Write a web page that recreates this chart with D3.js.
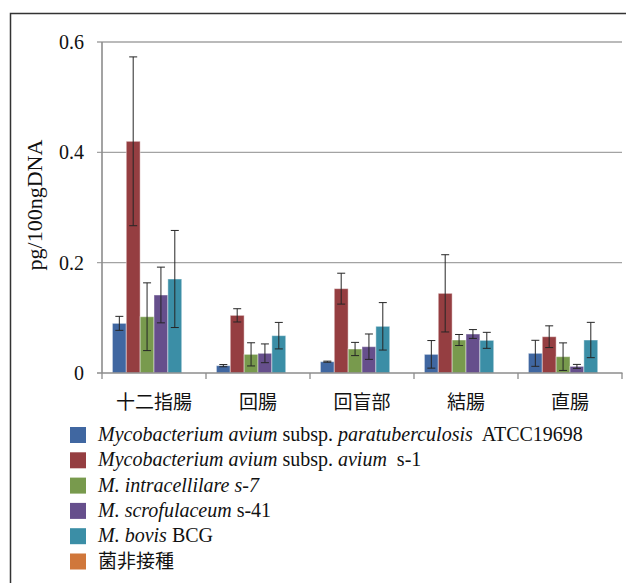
<!DOCTYPE html>
<html>
<head>
    <meta charset="utf-8">
    <title>pg/100ngDNA by site</title>
    <style>
        body { margin: 0; background: #fff; }
        svg text { white-space: pre; }
    </style>
    <script src="https://d3js.org/d3.v7.min.js"></script>
</head>
<body>
    <div id="chart"></div>
    <script>
        const categories = ["十二指腸", "回腸", "回盲部", "結腸", "直腸"];
        const seriesKeys = ["map", "maa", "mint", "mscr", "mbov", "ctrl"];
        const seriesColors = ["#4067a1", "#953e41", "#789a4d", "#664f8c", "#3b8ea6", "#d0773b"];

        const mapValues  = [0.090, 0.0133, 0.0205, 0.0338, 0.0357];
        const mapErrors  = [0.0127, 0.002, 0.001, 0.025, 0.0236];
        const maaValues  = [0.420, 0.1045, 0.1529, 0.1444, 0.0658];
        const maaErrors  = [0.153, 0.012, 0.028, 0.070, 0.0197];
        const mintValues = [0.102, 0.0338, 0.0435, 0.0598, 0.0296];
        const mintErrors = [0.0614, 0.021, 0.012, 0.010, 0.025];
        const mscrValues = [0.1414, 0.0357, 0.0477, 0.0707, 0.012];
        const mscrErrors = [0.0505, 0.017, 0.023, 0.008, 0.0036];
        const mbovValues = [0.1704, 0.0677, 0.0846, 0.0592, 0.0598];
        const mbovErrors = [0.088, 0.024, 0.043, 0.0145, 0.032];
        const ctrlValues = [0, 0, 0, 0, 0];
        const ctrlErrors = [0, 0, 0, 0, 0];

        const yTicks = [0, 0.2, 0.4, 0.6];
        const yLabel = "pg/100ngDNA";

        // legend labels, split into [text, italic?, cjk?] runs
        const legendLabels = [
            [["Mycobacterium avium", true], [" subsp. ", false], ["paratuberculosis", true], ["  ATCC19698", false]],
            [["Mycobacterium avium", true], [" subsp. ", false], ["avium", true], ["  s-1", false]],
            [["M. intracellilare s-7", true]],
            [["M. scrofulaceum", true], [" s-41", false]],
            [["M. bovis", true], [" BCG", false]],
            [["菌非接種", false, true]]
        ];

        const allValues = [mapValues, maaValues, mintValues, mscrValues, mbovValues, ctrlValues];
        const allErrors = [mapErrors, maaErrors, mintErrors, mscrErrors, mbovErrors, ctrlErrors];

        const SERIF = "'Liberation Serif', 'Times New Roman', 'DejaVu Serif', serif";
        const CJK = "'Noto Sans CJK JP', 'Noto Sans', sans-serif";

        const width = 626, height = 583;
        const svg = d3.select("#chart").append("svg")
            .attr("width", width)
            .attr("height", height);

        // outer frame (left + top visible)
        svg.append("path")
            .attr("d", `M10.5,${height} V13.5 H${width}`)
            .attr("fill", "none")
            .attr("stroke", "#333")
            .attr("stroke-width", 1.5);

        const x0 = d3.scaleBand().domain(categories).range([102, 622]);
        const x1 = d3.scaleBand().domain(seriesKeys).range([0, x0.bandwidth()]).paddingOuter(0.75);
        const y = d3.scaleLinear().domain([0, 0.6]).range([373, 42]);

        // y axis labels
        const yAxis = d3.axisLeft(y).tickValues(yTicks).tickSize(0)
            .tickFormat(d => d === 0 ? "0" : d3.format(".1f")(d));
        const yg = svg.append("g").attr("transform", "translate(102,0)").call(yAxis);
        yg.attr("font-family", null).attr("font-size", null);
        yg.select(".domain").remove();
        yg.selectAll("text")
            .attr("x", -18)
            .attr("dy", "0.33em")
            .style("font-size", "20px")
            .style("font-family", SERIF)
            .attr("fill", "#111");

        // gridlines
        svg.append("g").selectAll("line")
            .data(yTicks.filter(d => d > 0))
            .join("line")
            .attr("x1", 97).attr("x2", 622)
            .attr("y1", d => y(d)).attr("y2", d => y(d))
            .attr("stroke", "#a3a3a3")
            .attr("stroke-width", 1.3);

        // bars
        const groups = svg.append("g").selectAll("g")
            .data(categories)
            .join("g")
            .attr("transform", d => `translate(${x0(d)},0)`);

        const rows = ci => seriesKeys.map((k, si) => ({ k, si, v: allValues[si][ci], e: allErrors[si][ci] }));

        groups.selectAll("rect")
            .data((c, ci) => rows(ci))
            .join("rect")
            .attr("x", d => x1(d.k))
            .attr("width", x1.bandwidth())
            .attr("y", d => y(d.v))
            .attr("height", d => y(0) - y(d.v))
            .attr("fill", d => seriesColors[d.si])
            .attr("stroke", "#fff")
            .attr("stroke-opacity", 0.45)
            .attr("stroke-width", 1);

        // error bars
        const errs = groups.selectAll("g.err")
            .data((c, ci) => rows(ci).filter(d => d.v > 0))
            .join("g")
            .attr("class", "err")
            .attr("stroke", "#262626")
            .attr("stroke-width", 1);
        const cx = d => x1(d.k) + x1.bandwidth() / 2;
        errs.append("line")
            .attr("x1", cx).attr("x2", cx)
            .attr("y1", d => y(d.v + d.e)).attr("y2", d => y(d.v - d.e));
        errs.append("line")
            .attr("x1", d => cx(d) - 4).attr("x2", d => cx(d) + 4)
            .attr("y1", d => y(d.v + d.e)).attr("y2", d => y(d.v + d.e));
        errs.append("line")
            .attr("x1", d => cx(d) - 4).attr("x2", d => cx(d) + 4)
            .attr("y1", d => y(d.v - d.e)).attr("y2", d => y(d.v - d.e));

        // axis lines
        svg.append("line")
            .attr("x1", 102).attr("x2", 102)
            .attr("y1", y(0.6)).attr("y2", y(0))
            .attr("stroke", "#8c8c8c").attr("stroke-width", 1.6);
        svg.append("line")
            .attr("x1", 97).attr("x2", 622.5)
            .attr("y1", y(0)).attr("y2", y(0))
            .attr("stroke", "#8c8c8c").attr("stroke-width", 1.6);
        const bounds = categories.map(c => x0(c)).concat([x0.range()[1]]);
        svg.append("g").selectAll("line")
            .data(bounds)
            .join("line")
            .attr("x1", d => d).attr("x2", d => d)
            .attr("y1", y(0)).attr("y2", y(0) + 6)
            .attr("stroke", "#8c8c8c").attr("stroke-width", 1.3);

        svg.append("g").selectAll("text")
            .data(categories)
            .join("text")
            .attr("x", d => x0(d) + x0.bandwidth() / 2)
            .attr("y", 409)
            .attr("text-anchor", "middle")
            .style("font-family", CJK)
            .style("font-size", "19px")
            .attr("fill", "#111")
            .text(d => d);

        // y label
        svg.append("text")
            .attr("transform", "translate(42,205) rotate(-90)")
            .attr("text-anchor", "middle")
            .style("font-family", SERIF)
            .style("font-size", "22px")
            .attr("fill", "#111")
            .text(yLabel);

        // legend
        const legend = svg.append("g").selectAll("g")
            .data(legendLabels)
            .join("g")
            .attr("transform", (d, i) => `translate(70,${435 + i * 25.3})`);
        legend.append("rect")
            .attr("x", 0).attr("y", -8)
            .attr("width", 16).attr("height", 16)
            .attr("fill", (d, i) => seriesColors[i]);
        const lt = legend.append("text")
            .attr("x", 28)
            .attr("y", 6)
            .attr("fill", "#111");
        lt.selectAll("tspan")
            .data(d => d)
            .join("tspan")
            .style("font-family", d => d[2] ? CJK : SERIF)
            .style("font-size", d => d[2] ? "19px" : "20px")
            .style("font-style", d => d[1] ? "italic" : "normal")
            .text(d => d[0]);
    </script>
</body>
</html>
